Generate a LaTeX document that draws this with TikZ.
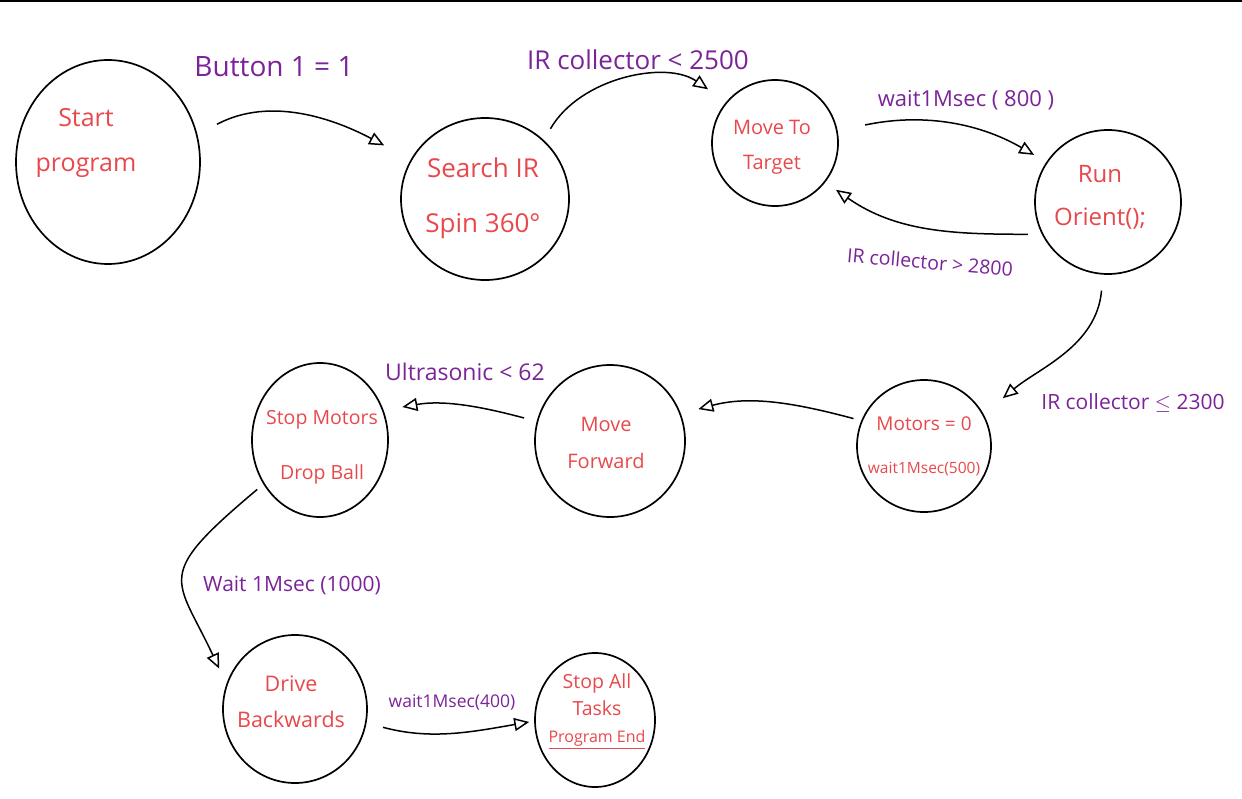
\documentclass[tikz,border=0pt]{standalone}
\usepackage{fontspec}
\setmainfont{Open Sans}
\usetikzlibrary{arrows.meta,shapes.geometric}
\definecolor{statered}{HTML}{E8484B}
\definecolor{condpurple}{HTML}{7B2398}
\begin{document}
\begin{tikzpicture}[x=1pt,y=1pt,
  state/.style={draw=black,line width=1.7pt,ellipse,inner sep=0pt},
  statetext/.style={text=statered,align=center,inner sep=0pt},
  cond/.style={text=condpurple,inner sep=0pt},
  arr/.style={draw=black,line width=1.5pt,-{Triangle[open,length=15pt,width=13pt,line width=1.5pt]}}]
\path[use as bounding box] (0,0) rectangle (1242,-798);
% rule along the top edge
\draw[line width=2.5pt] (0,-1) -- (1242,-1);

% states
\node[state,minimum width=184pt,minimum height=204pt] (start)  at (108,-162) {};
\node[state,minimum width=168pt,minimum height=162pt] (search) at (485,-199) {};
\node[state,minimum width=126pt,minimum height=126pt] (move)   at (775,-143) {};
\node[state,minimum width=146pt,minimum height=144pt] (orient) at (1108,-202) {};
\node[state,minimum width=134pt,minimum height=132pt] (motors) at (924,-446) {};
\node[state,minimum width=150pt,minimum height=152pt] (fwd)    at (610,-441) {};
\node[state,minimum width=136pt,minimum height=154pt] (drop)   at (320,-440) {};
\node[state,minimum width=144pt,minimum height=148pt] (back)   at (295,-709) {};
\node[state,minimum width=120pt,minimum height=134pt] (stop)   at (595,-720) {};

% state texts
\node[statetext,font=\fontsize{25}{45}\selectfont] (start-t) at (86,-143) {Start\\program};
\node[statetext,font=\fontsize{26}{55}\selectfont] (search-t) at (483,-198) {Search IR\\Spin 360°};
\node[statetext,font=\fontsize{20}{35}\selectfont] (move-t) at (772,-147) {Move To\\Target};
\node[statetext,font=\fontsize{24}{43}\selectfont] (orient-t) at (1100,-197) {Run\\Orient();};
\node[statetext,font=\fontsize{19}{43}\selectfont] (motors-t) at (924,-446) {Motors = 0\\{\fontsize{15.5}{15.5}\selectfont wait1Msec(500)}};
\node[statetext,font=\fontsize{20}{37}\selectfont] (fwd-t) at (606,-443) {Move\\Forward};
\node[statetext,font=\fontsize{19.5}{55}\selectfont] (drop-t) at (322,-447) {Stop Motors\\Drop Ball};
\node[statetext,font=\fontsize{21.5}{36}\selectfont] (back-t) at (291,-702) {Drive\\Backwards};
\node[statetext,font=\fontsize{19.5}{27}\selectfont] (stop-t) at (597,-711) {Stop All\\Tasks\\{\fontsize{16}{16}\selectfont\underline{Program End}}};

% transitions
\draw[arr,shorten <=22pt,shorten >=30pt] (start.17) to[out=28,in=152] (search.152);
\draw[arr,shorten <=13pt,shorten >=22pt] (search.45) to[out=60,in=145] (move.140);
\draw[arr,shorten <=28pt,shorten >=14pt] (move.11) to[out=12,in=150] (orient.147);
\draw[arr,shorten <=14pt,shorten >=13pt] (orient.206) to[out=180,in=-35] (move.322);
\draw[arr,shorten <=16pt,shorten >=25pt] (orient.266) to[out=-95,in=40] (motors.28);
\draw[arr,shorten <=8pt,shorten >=18pt] (motors.158) to[out=165,in=15] (fwd.21);
\draw[arr,shorten <=13pt,shorten >=19pt] (fwd.165) to[out=165,in=10] (drop.25);
\draw[arr,shorten <=8pt,shorten >=17pt] (drop.218) .. controls +(220:145) and +(115:119) .. (back.160);
\draw[arr,shorten <=17pt,shorten >=5pt] (back.-11) to[out=-15,in=190] (stop.181);

% transition conditions
\node[cond,font=\fontsize{28}{28}\selectfont] (c1) at (274,-67) {Button 1 = 1};
\node[cond,font=\fontsize{26}{26}\selectfont] (c2) at (638,-60) {IR collector < 2500};
\node[cond,font=\fontsize{22}{22}\selectfont] (c3) at (966,-100) {wait1Msec ( 800 )};
\node[cond,font=\fontsize{19.5}{19.5}\selectfont,rotate=-5] (c4) at (930,-262) {IR collector > 2800};
\node[cond,font=\fontsize{21}{21}\selectfont] (c5) at (1133,-403) {IR collector $\le$ 2300};
\node[cond,font=\fontsize{23}{23}\selectfont] (c6) at (465,-372) {Ultrasonic < 62};
\node[cond,font=\fontsize{21}{21}\selectfont] (c7) at (292,-585) {Wait 1Msec (1000)};
\node[cond,font=\fontsize{17.5}{17.5}\selectfont] (c8) at (452,-702) {wait1Msec(400)};
\end{tikzpicture}
\end{document}
